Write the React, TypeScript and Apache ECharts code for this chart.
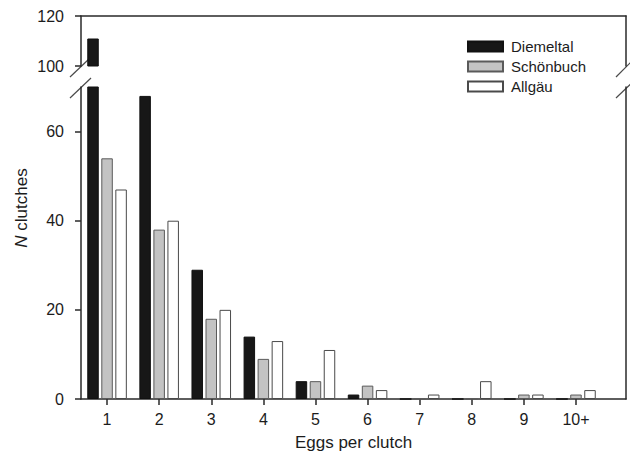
import React, { useEffect, useRef } from 'react';
import * as echarts from 'echarts';

const categories = ['1', '2', '3', '4', '5', '6', '7', '8', '9', '10+'];
const positions = [1, 2, 3, 4, 5, 6, 7, 8, 9, 10];
const diemeltal = [111, 68, 29, 14, 4, 1, 0, 0, 0, 0];
const schoenbuch = [54, 38, 18, 9, 4, 3, 0, 0, 1, 1];
const allgaeu = [47, 40, 20, 13, 11, 2, 1, 4, 1, 2];
const seriesNames = ['Diemeltal', 'Schönbuch', 'Allgäu'];
const lowerTicks = [0, 20, 40, 60];
const xTitle = 'Eggs per clutch';

const FONT = '"Liberation Sans", Arial, Helvetica, sans-serif';
const TXT = '#1c1c1c';
const AX = '#2a2a2a';

export default function App() {
  const ref = useRef<HTMLDivElement>(null);
  useEffect(() => {
    if (!ref.current) return;
    const chart = echarts.init(ref.current, undefined, { renderer: 'svg' });
    const seriesData = [diemeltal, schoenbuch, allgaeu];
    const styles = [
      { color: '#171717', borderColor: '#111111', borderWidth: 1 },
      { color: '#c3c3c3', borderColor: '#5a5a5a', borderWidth: 1 },
      { color: '#ffffff', borderColor: '#4a4a4a', borderWidth: 1 },
    ];
    const lineStyle = { color: AX, width: 1.5 };
    const series: any[] = [];
    [0, 1].forEach((g) => {
      seriesData.forEach((arr, k) => {
        series.push({
          type: 'bar',
          name: seriesNames[k],
          xAxisIndex: g,
          yAxisIndex: g === 0 ? 0 : 2,
          data: arr.map((v, i) => [positions[i], v]),
          barWidth: 11.5,
          barGap: '22%',
          itemStyle: styles[k],
          clip: true,
          emphasis: { disabled: true },
        });
      });
    });
    const xmin = 0.5;
    const xmax = 10.96;
    const brk = { stroke: '#4a4a4a', lineWidth: 1.2 };
    chart.setOption({
      animation: false,
      textStyle: { fontFamily: FONT, color: TXT },
      legend: {
        data: seriesNames,
        orient: 'vertical',
        left: 467,
        top: 39,
        padding: 0,
        itemWidth: 35,
        itemHeight: 10,
        itemGap: 5,
        icon: 'rect',
        textStyle: { fontSize: 15, color: TXT, fontFamily: FONT, padding: [0, 0, 0, 3] },
        selectedMode: false,
      },
      grid: [
        { left: 81, top: 16, width: 545, height: 50 },
        { left: 81, top: 87, width: 545, height: 312 },
      ],
      xAxis: [
        {
          gridIndex: 0, type: 'value', min: xmin, max: xmax, position: 'top',
          axisLine: { show: true, onZero: false, lineStyle },
          axisTick: { show: false }, axisLabel: { show: false }, splitLine: { show: false },
        },
        {
          gridIndex: 1, type: 'value', min: xmin, max: xmax, position: 'bottom',
          axisLine: { show: true, onZero: false, lineStyle },
          axisTick: { show: true, length: 6, customValues: positions, lineStyle },
          axisLabel: {
            customValues: positions, margin: 12, fontSize: 16, color: TXT, fontFamily: FONT,
            formatter: (v: number) => categories[positions.indexOf(Math.round(v))] ?? '',
          },
          splitLine: { show: false },
          name: xTitle, nameLocation: 'middle', nameGap: 35,
          nameTextStyle: { fontSize: 17, color: TXT, fontFamily: FONT },
        },
      ],
      yAxis: [
        {
          gridIndex: 0, type: 'value', min: 100, max: 120, interval: 20,
          axisLine: { show: true, onZero: false, lineStyle },
          axisTick: { show: true, length: 6, lineStyle },
          axisLabel: { margin: 17, fontSize: 16, color: TXT, fontFamily: FONT },
          splitLine: { show: false },
        },
        {
          gridIndex: 0, type: 'value', min: 100, max: 120, position: 'right',
          axisLine: { show: true, onZero: false, lineStyle },
          axisTick: { show: false }, axisLabel: { show: false }, splitLine: { show: false },
        },
        {
          gridIndex: 1, type: 'value', min: 0, max: 70,
          axisLine: { show: true, onZero: false, lineStyle },
          axisTick: { show: true, length: 6, customValues: lowerTicks, lineStyle },
          axisLabel: { customValues: lowerTicks, margin: 17, fontSize: 16, color: TXT, fontFamily: FONT },
          splitLine: { show: false },
        },
        {
          gridIndex: 1, type: 'value', min: 0, max: 70, position: 'right',
          axisLine: { show: true, onZero: false, lineStyle },
          axisTick: { show: false }, axisLabel: { show: false }, splitLine: { show: false },
        },
      ],
      series,
      graphic: [
        { type: 'line', shape: { x1: 70, y1: 77, x2: 89, y2: 59 }, style: brk, silent: true },
        { type: 'line', shape: { x1: 70, y1: 98, x2: 91, y2: 78 }, style: brk, silent: true },
        { type: 'line', shape: { x1: 616, y1: 77, x2: 634, y2: 59 }, style: brk, silent: true },
        { type: 'line', shape: { x1: 616, y1: 98, x2: 637, y2: 78 }, style: brk, silent: true },
        {
          type: 'text', x: 21, y: 208, rotation: Math.PI / 2, silent: true,
          style: {
            text: '{i|N} clutches',
            align: 'center', verticalAlign: 'middle',
            fontSize: 17, fontFamily: FONT, fill: TXT,
            rich: { i: { fontStyle: 'italic', fontSize: 17, fontFamily: FONT, fill: TXT } },
          },
        },
      ],
    });
    return () => chart.dispose();
  }, []);
  return (
    <div
      ref={ref}
      style={{ position: 'fixed', left: 0, top: 0, width: 630, height: 456, background: '#fff' }}
    />
  );
}
